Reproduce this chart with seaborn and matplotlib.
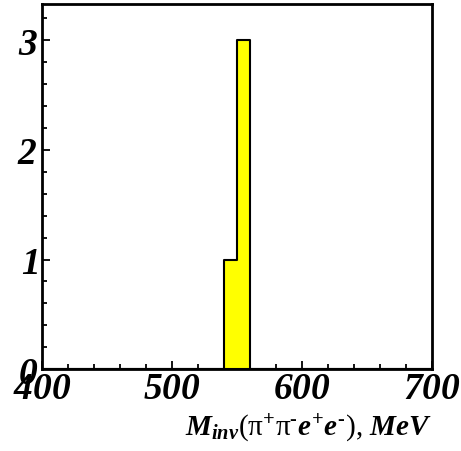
import numpy as np
import pandas as pd
import matplotlib
matplotlib.use("Agg")
import matplotlib.pyplot as plt
import seaborn as sns
from matplotlib.ticker import MultipleLocator, FuncFormatter

# histogram contents: left bin edge (MeV) and number of events
bin_left = [540, 550]
counts = [1, 3]
bin_edges = list(range(400, 701, 10))

df = pd.DataFrame({"m": bin_left, "n": counts})

sns.set_style("ticks")
plt.rcParams["font.family"] = ["Liberation Serif", "DejaVu Serif"]
plt.rcParams["font.weight"] = "bold"
for k in ["text.color", "axes.labelcolor", "xtick.color", "ytick.color", "axes.edgecolor"]:
    plt.rcParams[k] = "black"
plt.rcParams["mathtext.fontset"] = "custom"
plt.rcParams["mathtext.it"] = "Liberation Serif:bold:italic"
plt.rcParams["mathtext.sf"] = "Liberation Serif:bold:italic"
plt.rcParams["mathtext.rm"] = "Liberation Serif:bold"
plt.rcParams["mathtext.bf"] = "Liberation Serif:bold"

fig = plt.figure(figsize=(4.61, 4.52), dpi=100)
ax = fig.add_axes([0.091, 0.181, 0.846, 0.808])

sns.histplot(data=df, x="m", weights="n", bins=bin_edges, element="step",
             fill=True, color="#ffff00", alpha=1, edgecolor="black",
             linewidth=1.5, ax=ax)

ax.set_xlim(400, 700)
ax.set_ylim(0, 3.33)
ital = FuncFormatter(lambda v, p: r"$\mathsf{%g}$" % v)
ax.xaxis.set_major_locator(MultipleLocator(100))
ax.xaxis.set_minor_locator(MultipleLocator(20))
ax.yaxis.set_major_locator(MultipleLocator(1))
ax.yaxis.set_minor_locator(MultipleLocator(0.2))
ax.xaxis.set_major_formatter(ital)
ax.yaxis.set_major_formatter(ital)
ax.tick_params(which="both", direction="in", width=1.3, top=False, right=False,
               labelsize=27)
ax.tick_params(which="major", length=6)
ax.tick_params(which="minor", length=3.5)
ax.tick_params(axis="x", pad=1)
ax.tick_params(axis="y", pad=3)
for sp in ax.spines.values():
    sp.set_visible(True)
    sp.set_linewidth(2)

ax.set_ylabel("")
ax.set_xlabel(r"$M_{inv}$(π$^{+}$π$^{\text{-}}$$e^{+}e^{\text{-}}$), $MeV$", fontsize=21,
              loc="right", labelpad=4)

fig.savefig("out.png", dpi=100)
